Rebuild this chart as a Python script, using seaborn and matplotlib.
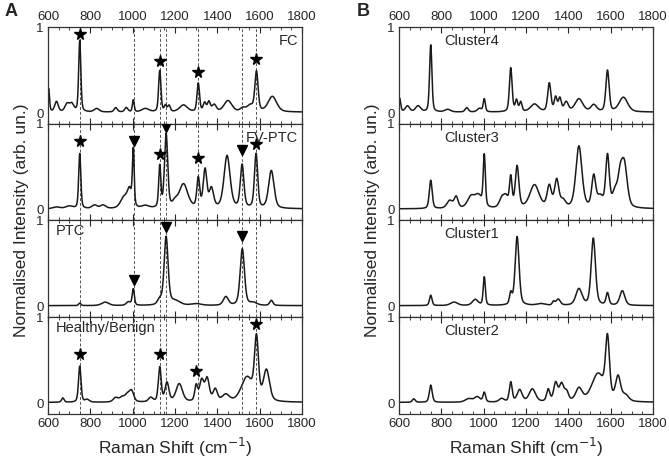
import numpy as np
import pandas as pd
import matplotlib
matplotlib.use('Agg')
import matplotlib.pyplot as plt
from matplotlib.ticker import MultipleLocator
import seaborn as sns

# ---- peak tables (centre cm-1, height, half width) ----
fc_c = [603, 640, 690, 712, 750, 830, 920, 970, 1003, 1060, 1128, 1155, 1172, 1240, 1310, 1340, 1360, 1385, 1450, 1520, 1555, 1585, 1660]
fc_h = [0.27, 0.12, 0.09, 0.09, 0.83, 0.04, 0.05, 0.05, 0.14, 0.04, 0.48, 0.07, 0.07, 0.08, 0.33, 0.10, 0.11, 0.08, 0.13, 0.04, 0.07, 0.46, 0.18]
fc_w = [5, 10, 12, 12, 6, 14, 9, 9, 5, 20, 6.5, 7, 7, 22, 7, 8, 8, 12, 22, 14, 18, 9, 24]

fv_c = [640, 700, 750, 820, 860, 960, 985, 1003, 1060, 1128, 1158, 1200, 1240, 1310, 1342, 1372, 1446, 1517, 1583, 1655]
fv_h = [0.02, 0.03, 0.64, 0.04, 0.04, 0.13, 0.19, 0.65, 0.03, 0.48, 0.86, 0.06, 0.28, 0.34, 0.44, 0.22, 0.61, 0.50, 0.63, 0.44]
fv_w = [20, 20, 6, 15, 15, 20, 12, 5, 20, 6, 9, 14, 24, 8, 10, 12, 17, 10, 9, 15]

ptc_c = [750, 870, 980, 1003, 1128, 1158, 1200, 1300, 1440, 1518, 1570, 1655]
ptc_h = [0.03, 0.04, 0.04, 0.19, 0.06, 0.79, 0.05, 0.02, 0.10, 0.66, 0.03, 0.06]
ptc_w = [6, 20, 12, 6, 12, 11, 28, 28, 14, 12, 20, 9]

hb_c = [670, 750, 785, 920, 950, 975, 995, 1085, 1128, 1162, 1220, 1300, 1326, 1352, 1390, 1440, 1540, 1585, 1632]
hb_h = [0.05, 0.42, 0.03, 0.05, 0.05, 0.08, 0.12, 0.05, 0.40, 0.22, 0.21, 0.18, 0.24, 0.26, 0.14, 0.08, 0.28, 0.70, 0.36]
hb_w = [7, 7, 12, 14, 14, 14, 12, 12, 8, 11, 18, 8, 12, 12, 12, 20, 32, 11, 17]

c4_c = [603, 640, 690, 750, 830, 920, 980, 1003, 1128, 1155, 1175, 1240, 1310, 1340, 1360, 1390, 1450, 1520, 1585, 1660]
c4_h = [0.16, 0.07, 0.07, 0.78, 0.03, 0.05, 0.04, 0.15, 0.51, 0.13, 0.11, 0.09, 0.33, 0.16, 0.15, 0.11, 0.15, 0.08, 0.48, 0.17]
c4_w = [6, 12, 14, 6.5, 16, 9, 12, 6, 7.5, 7, 7, 22, 9, 8, 8, 12, 22, 16, 9, 24]

c3_c = [750, 840, 870, 940, 975, 1003, 1085, 1105, 1128, 1158, 1240, 1310, 1345, 1375, 1450, 1520, 1550, 1585, 1620, 1645, 1665]
c3_h = [0.33, 0.09, 0.13, 0.13, 0.14, 0.59, 0.10, 0.12, 0.34, 0.48, 0.27, 0.25, 0.32, 0.08, 0.72, 0.36, 0.12, 0.60, 0.16, 0.32, 0.47]
c3_w = [8, 16, 11, 20, 20, 6, 14, 14, 7, 10, 26, 12, 12, 14, 17, 11, 16, 10, 14, 14, 16]

c1_c = [750, 860, 960, 1003, 1128, 1158, 1270, 1330, 1352, 1450, 1518, 1585, 1655]
c1_h = [0.12, 0.04, 0.07, 0.33, 0.13, 0.80, 0.02, 0.04, 0.07, 0.19, 0.78, 0.14, 0.17]
c1_w = [7, 20, 16, 6, 7, 11, 22, 7, 12, 17, 12, 8, 14]

c2_c = [670, 750, 930, 970, 1003, 1085, 1128, 1170, 1230, 1305, 1340, 1368, 1392, 1450, 1540, 1585, 1635, 1670]
c2_h = [0.04, 0.20, 0.04, 0.06, 0.11, 0.04, 0.23, 0.14, 0.15, 0.14, 0.21, 0.20, 0.10, 0.15, 0.32, 0.68, 0.28, 0.07]
c2_w = [8, 8, 20, 16, 7, 14, 8, 14, 18, 9, 11, 13, 11, 18, 35, 11, 14, 18]

# reference band positions (dashed lines, panel A)
band_lines = [750, 1004, 1128, 1157, 1308, 1518, 1585]

# markers: (position, y, kind)
fc_marks = [(750, 0.92, '*'), (1128, 0.60, '*'), (1310, 0.48, '*'), (1585, 0.63, '*')]
fv_marks = [(750, 0.80, '*'), (1004, 0.80, 'v'), (1128, 0.65, '*'), (1158, 0.96, 'v'),
            (1310, 0.60, '*'), (1518, 0.69, 'v'), (1585, 0.76, '*')]
ptc_marks = [(1004, 0.31, 'v'), (1158, 0.93, 'v'), (1518, 0.82, 'v')]
hb_marks = [(750, 0.57, '*'), (1128, 0.57, '*'), (1300, 0.37, '*'), (1585, 0.92, '*')]

panel_a = [("FC", fc_c, fc_h, fc_w, fc_marks, 'right'),
           ("FV-PTC", fv_c, fv_h, fv_w, fv_marks, 'right'),
           ("PTC", ptc_c, ptc_h, ptc_w, ptc_marks, 'left'),
           ("Healthy/Benign", hb_c, hb_h, hb_w, hb_marks, 'left')]
panel_b = [("Cluster4", c4_c, c4_h, c4_w),
           ("Cluster3", c3_c, c3_h, c3_w),
           ("Cluster1", c1_c, c1_h, c1_w),
           ("Cluster2", c2_c, c2_h, c2_w)]

shift = np.arange(600, 1801, 1.0)


def spectrum(cen, hgt, wid):
    # pseudo-Voigt band sum built from the peak table
    y = np.full_like(shift, 0.01)
    for c, h, w in zip(cen, hgt, wid):
        d = (shift - c) / w
        y += h * (0.4 / (1 + d ** 2) + 0.6 * np.exp(-np.log(2) * d ** 2))
    return y


sns.set_style("ticks")
plt.rcParams['font.family'] = ['Liberation Sans', 'DejaVu Sans']
plt.rcParams['xtick.direction'] = 'in'
plt.rcParams['ytick.direction'] = 'in'

fig = plt.figure(figsize=(6.69, 4.65), dpi=100)
W, H = 669, 465
top, bot = 27, 414
rows = 4
rh = (bot - top) / rows


def make_axes(x0, x1):
    axs = []
    for i in range(rows):
        y1 = top + i * rh
        axs.append(fig.add_axes([x0 / W, 1 - (y1 + rh) / H, (x1 - x0) / W, rh / H]))
    return axs


def style_axis(ax, i):
    ax.set_xlim(600, 1800)
    ax.set_ylim(-0.125, 1.0)
    ax.xaxis.set_major_locator(MultipleLocator(200))
    ax.xaxis.set_minor_locator(MultipleLocator(50))
    ax.set_yticks([0, 1])
    ax.set_yticklabels(["0", "1"])
    ax.tick_params(axis='x', which='both', top=True, bottom=True,
                   labeltop=(i == 0), labelbottom=(i == rows - 1), labelsize=9.5, pad=3)
    ax.tick_params(axis='x', which='major', length=4, width=0.8)
    ax.tick_params(axis='x', which='minor', length=2, width=0.6)
    ax.tick_params(axis='y', length=0, labelsize=9.5, pad=3)
    for s in ax.spines.values():
        s.set_linewidth(0.9)
        s.set_color('#333333')
    ax.set_xlabel("")
    ax.set_ylabel("")


axA = make_axes(48, 302)
axB = make_axes(399, 653)

for i, (name, c, h, w, marks, side) in enumerate(panel_a):
    ax = axA[i]
    df = pd.DataFrame({"shift": shift, "intensity": spectrum(c, h, w)})
    for b in band_lines:
        ax.axvline(b, color='#555555', ls=(0, (3, 2)), lw=0.7, zorder=1)
    sns.lineplot(data=df, x="shift", y="intensity", ax=ax, color='#1a1a1a',
                 lw=1.1, estimator=None, zorder=2)
    for pos, yv, kind in marks:
        ax.plot(pos, yv, marker=kind, color='black', ms=8.5 if kind == '*' else 6.5,
                ls='none', zorder=3)
    if side == 'right':
        ax.text(0.985, 0.93, name, transform=ax.transAxes, ha='right', va='top', fontsize=10.5)
    else:
        ax.text(0.03, 0.96, name, transform=ax.transAxes,
                ha='left', va='top', fontsize=10.5)
    style_axis(ax, i)

for i, (name, c, h, w) in enumerate(panel_b):
    ax = axB[i]
    df = pd.DataFrame({"shift": shift, "intensity": spectrum(c, h, w)})
    sns.lineplot(data=df, x="shift", y="intensity", ax=ax, color='#1a1a1a',
                 lw=1.1, estimator=None)
    ax.text(0.18, 0.93, name, transform=ax.transAxes, ha='left', va='top', fontsize=10.5)
    style_axis(ax, i)

fig.text(5 / W, 1 - 12 / H, "A", fontsize=13, fontweight='bold', va='center')
fig.text(357 / W, 1 - 12 / H, "B", fontsize=13, fontweight='bold', va='center')
fig.text(22 / W, 1 - 220 / H, "Normalised Intensity (arb. un.)", rotation=90,
         fontsize=12.5, ha='center', va='center')
fig.text(373 / W, 1 - 220 / H, "Normalised Intensity (arb. un.)", rotation=90,
         fontsize=12.5, ha='center', va='center')
fig.text(175 / W, 1 - 447 / H, "Raman Shift (cm$^{-1}$)", fontsize=12.5, ha='center', va='center')
fig.text(526 / W, 1 - 447 / H, "Raman Shift (cm$^{-1}$)", fontsize=12.5, ha='center', va='center')

fig.savefig("out.png", dpi=100)
